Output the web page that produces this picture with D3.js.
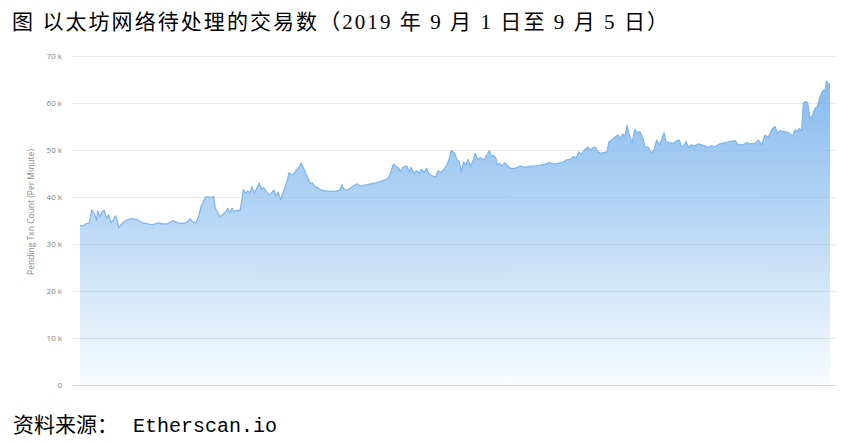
<!DOCTYPE html>
<html>
<head>
<meta charset="utf-8">
<script src="https://cdn.jsdelivr.net/npm/d3@7"></script>
<style>
  html, body { margin: 0; padding: 0; background: #fff; }
  svg { display: block; }
</style>
</head>
<body>
<svg id="chart" width="851" height="443"></svg>
<script>
// ---- Data (hours since 2019-09-01 00:00, pending txn count in thousands) ----
const hours = [
  0.00,0.39,0.86,1.34,1.68,2.06,2.40,2.55,2.88,3.17,3.50,3.84,4.13,4.46,4.80,5.08,5.28,5.57,6.15,6.87,
  7.59,8.31,9.03,9.75,10.47,11.19,11.91,12.63,13.35,14.07,14.79,15.51,15.84,16.23,16.70,17.09,17.42,17.76,18.04,18.39,
  18.86,19.25,19.48,19.83,20.16,20.55,21.02,21.27,21.60,21.89,22.22,22.71,23.04,23.28,23.52,23.80,24.15,24.48,24.77,25.10,
  25.44,25.82,26.11,26.40,26.88,27.22,27.55,27.94,28.22,28.51,28.90,29.19,29.48,29.85,30.10,30.43,30.82,31.10,31.54,31.87,
  32.16,32.50,32.83,33.12,33.45,33.80,34.17,34.66,35.38,36.10,36.82,37.44,37.73,38.02,38.49,39.07,39.84,40.42,41.14,41.86,
  42.58,43.30,43.88,44.35,44.74,45.12,45.46,45.79,46.18,46.56,47.04,47.42,47.71,48.10,48.48,48.82,49.15,49.54,49.92,50.26,
  50.73,51.22,51.55,51.94,52.42,52.80,53.14,53.47,53.96,54.29,54.62,54.91,55.25,55.58,55.87,56.20,56.55,56.92,57.31,57.64,
  58.13,58.61,58.94,59.23,59.57,59.90,60.05,60.38,60.77,61.16,61.49,61.96,62.68,63.40,64.12,64.84,65.56,66.28,67.00,67.58,
  68.21,68.93,69.65,70.13,70.60,71.09,71.42,71.81,72.19,72.68,73.15,73.48,73.83,74.20,74.59,75.07,75.56,75.89,76.13,76.51,
  77.00,77.47,77.80,78.15,78.44,78.77,79.10,79.49,79.88,80.25,80.64,81.03,81.36,81.84,82.32,82.66,83.04,83.42,83.76,84.10,
  84.38,84.86,85.44,85.92,86.30,86.64,86.98,87.26,87.60,88.08,88.56,89.04,89.52,90.00,90.48,90.96,91.44,92.16,92.88,93.60,
  94.32,94.80,95.52,96.00,96.48,97.20,97.68,98.16,98.64,99.12,99.60,100.08,100.41,100.80,101.38,102.00,102.63,102.96,103.29,103.58,
  103.92,104.16,104.50,104.79,105.12,105.51,105.84,106.17,106.56,106.95,107.28,107.52,107.76,108.00
];
const pendingK = [
  34.0,33.8,34.3,34.5,37.2,36.5,35.1,37.1,35.8,36.9,37.2,35.4,36.2,34.5,35.1,36.0,35.4,33.5,34.5,35.2,
  35.4,35.1,34.5,34.3,34.1,34.5,34.3,34.3,35.0,34.5,34.4,34.7,35.4,34.7,34.5,35.8,37.9,39.0,39.9,40.1,
  39.9,40.1,37.6,36.7,35.8,36.2,36.9,37.6,36.7,37.6,36.9,37.2,37.1,39.0,41.6,40.8,41.3,40.9,42.2,40.9,
  41.8,43.0,41.6,42.0,41.1,40.4,40.8,41.5,40.1,41.1,39.4,40.8,41.8,43.6,45.2,44.7,45.0,45.7,46.3,47.2,
  46.3,45.0,44.0,42.9,43.0,42.3,42.0,41.5,41.3,41.2,41.2,41.5,42.6,41.6,41.5,42.0,42.8,42.3,42.6,42.8,
  43.0,43.3,43.6,44.0,45.2,47.0,46.6,46.3,45.4,46.4,46.6,45.4,46.3,44.9,45.6,45.0,45.9,45.2,46.1,44.9,
  44.5,44.3,45.6,45.2,45.9,46.8,48.0,49.9,49.3,47.9,47.5,45.4,47.5,46.8,48.0,46.6,47.5,49.3,47.9,48.4,
  47.9,48.9,49.9,48.6,48.9,48.2,46.8,47.2,46.6,47.3,46.8,46.1,46.1,46.6,46.3,46.6,46.6,46.8,47.0,47.3,
  47.0,47.2,47.5,47.9,48.0,48.6,48.2,49.6,49.1,50.1,50.6,50.0,50.4,50.6,49.6,49.3,49.5,49.6,51.6,52.1,
  52.7,53.2,52.5,53.4,52.8,55.3,53.2,51.4,54.4,53.7,53.9,52.5,50.7,50.6,49.3,50.1,52.1,51.1,52.3,53.7,
  51.8,51.6,51.4,52.0,52.1,50.6,51.1,51.8,50.6,51.1,50.9,51.3,51.1,50.9,50.6,50.9,50.7,51.3,51.6,51.8,
  52.0,51.1,51.1,51.6,51.3,51.4,52.1,51.1,53.2,52.7,54.3,55.0,53.7,54.1,53.9,53.7,53.0,54.3,53.9,54.6,
  54.1,60.0,60.3,60.0,56.7,57.4,58.9,59.2,61.3,62.6,62.8,64.7,63.8,64.3
];
const yTicks = [0, 10, 20, 30, 40, 50, 60, 70];
const yTickLabels = ["0", "10 k", "20 k", "30 k", "40 k", "50 k", "60 k", "70 k"];
const titleText = "图 以太坊网络待处理的交易数（2019 年 9 月 1 日至 9 月 5 日）";
const yAxisTitle = "Pending Txn Count (Per Minute)";
const sourceLabel = "资料来源：";
const sourceName = "Etherscan.io";

// ---- Layout ----
const svg = d3.select("#chart");
const plot = { left: 72, right: 836, top: 56, bottom: 385 };
const areaLeft = 80, areaRight = 830;

const data = hours.map((h, i) => ({ h, v: pendingK[i] }));

const x = d3.scaleLinear().domain([d3.min(hours), d3.max(hours)]).range([areaLeft, areaRight]);
const y = d3.scaleLinear().domain([0, 70]).range([plot.bottom, plot.top]);

// gradient
const defs = svg.append("defs");
const grad = defs.append("linearGradient")
  .attr("id", "fillGrad")
  .attr("gradientUnits", "userSpaceOnUse")
  .attr("x1", 0).attr("x2", 0)
  .attr("y1", y(65)).attr("y2", y(0));
grad.append("stop").attr("offset", "0%").attr("stop-color", "#7cb5ec").attr("stop-opacity", 0.92);
grad.append("stop").attr("offset", "45%").attr("stop-color", "#7cb5ec").attr("stop-opacity", 0.55);
grad.append("stop").attr("offset", "100%").attr("stop-color", "#7cb5ec").attr("stop-opacity", 0.05);

// grid lines via axis
const yAxis = d3.axisLeft(y).tickValues(yTicks)
  .tickSize(-(plot.right - plot.left))
  .tickFormat((d, i) => yTickLabels[i]);
const gy = svg.append("g")
  .attr("transform", `translate(${plot.left},0)`)
  .call(yAxis);
gy.select(".domain").remove();
gy.selectAll(".tick line")
  .attr("stroke", (d) => d === 0 ? "#ccd6eb" : "#e9e9e9")
  .attr("stroke-width", 1)
  .attr("shape-rendering", "crispEdges");
gy.selectAll(".tick text")
  .attr("x", -10)
  .attr("dy", "0.32em")
  .attr("fill", "#808080")
  .style("font-family", "'Open Sans', 'DejaVu Sans', sans-serif")
  .style("font-size", "8px");

// area
const area = d3.area()
  .x(d => x(d.h))
  .y0(y(0))
  .y1(d => y(d.v))
  .curve(d3.curveLinear);
svg.append("path")
  .datum(data)
  .attr("d", area)
  .attr("fill", "url(#fillGrad)");

const line = d3.line().x(d => x(d.h)).y(d => y(d.v));
svg.append("path")
  .datum(data)
  .attr("d", line)
  .attr("fill", "none")
  .attr("stroke", "#7cb5ec")
  .attr("stroke-width", 1.2)
  .attr("stroke-linejoin", "round");

// redraw baseline on top
svg.append("line")
  .attr("x1", plot.left).attr("x2", plot.right)
  .attr("y1", y(0) + 0.5).attr("y2", y(0) + 0.5)
  .attr("stroke", "#ccd6eb").attr("stroke-width", 1);

// y axis title
svg.append("text")
  .attr("transform", `translate(34,${212}) rotate(-90)`)
  .attr("text-anchor", "middle")
  .attr("fill", "#8a8a8a")
  .style("font-family", "'Open Sans', 'DejaVu Sans', sans-serif")
  .style("font-size", "8.5px")
  .text(yAxisTitle);

// title
svg.append("text")
  .attr("x", 12).attr("y", 29)
  .attr("textLength", 656)
  .attr("lengthAdjust", "spacing")
  .attr("fill", "#000")
  .style("font-family", "'Liberation Serif', 'Noto Sans CJK SC', serif")
  .style("font-size", "21px")
  .text(titleText);

// source footer
const foot = svg.append("text")
  .attr("x", 13).attr("y", 432)
  .attr("fill", "#000")
  .style("font-size", "21px");
foot.append("tspan")
  .style("font-family", "'Noto Sans CJK SC', sans-serif")
  .text(sourceLabel);
foot.append("tspan")
  .attr("x", 133)
  .style("font-family", "'Liberation Mono', monospace")
  .style("font-size", "20px")
  .text(sourceName);
</script>
</body>
</html>
